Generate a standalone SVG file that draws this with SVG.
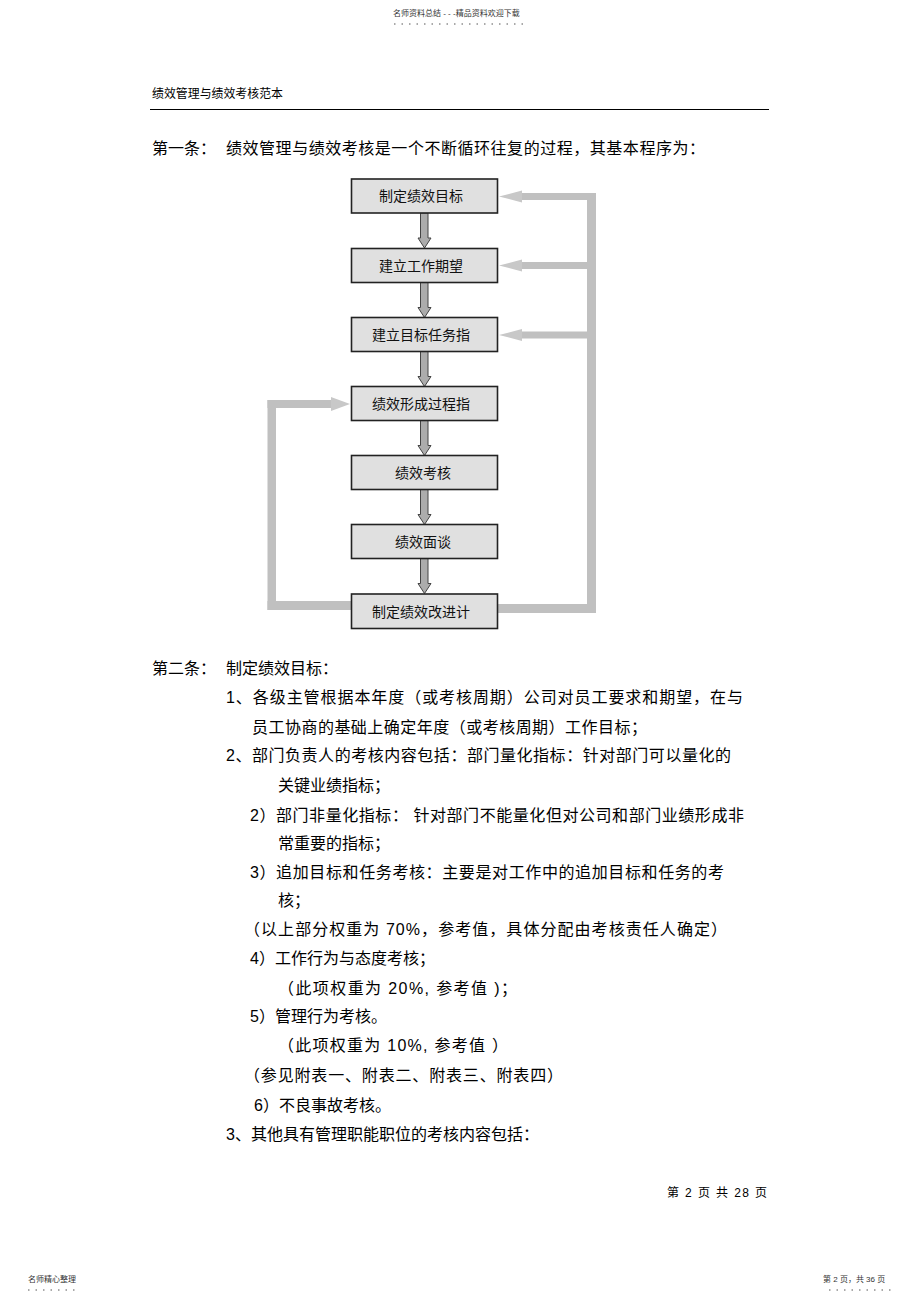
<svg xmlns="http://www.w3.org/2000/svg" width="920" height="1301" viewBox="0 0 920 1301">
<style>
.t{font-family:"Liberation Sans","Noto Sans CJK SC",sans-serif;fill:#000}
.b16{font-size:16px}
.sm{font-size:8px;fill:#333}
.box rect{fill:#e0e0e0;stroke:#222;stroke-width:1.6}
.box text{font-family:"Liberation Sans","Noto Sans CJK SC",sans-serif;font-size:14px;fill:#111;text-anchor:middle}
.dn{fill:#acacac;stroke:#444;stroke-width:1}
.bar{fill:#c0c0c0}
.hd{fill:#c8c8c8}
.dots{stroke:#555;stroke-width:1;stroke-dasharray:1.5 6}
</style>
<rect width="920" height="1301" fill="#fff"/>
<!-- page header -->
<text class="t sm" x="393" y="16">名师资料总结 - - -精品资料欢迎下载</text>
<line class="dots" x1="394" y1="24" x2="528" y2="24"/>
<text class="t" x="152" y="98" font-size="12" textLength="131" lengthAdjust="spacingAndGlyphs">绩效管理与绩效考核范本</text>
<line x1="150" y1="109.5" x2="769" y2="109.5" stroke="#000" stroke-width="1.2"/>
<text class="t b16" x="152" y="154">第一条：</text>
<text class="t b16" x="226" y="154" textLength="479" lengthAdjust="spacing">绩效管理与绩效考核是一个不断循环往复的过程，其基本程序为：</text>
<!-- connectors -->
<g id="connectors">
<polygon class="dn" points="420.5,213 428,213 428,238 431,238 424.5,248 418,238 420.5,238"/>
<polygon class="dn" points="420.5,282.5 428,282.5 428,307.5 431,307.5 424.5,317.5 418,307.5 420.5,307.5"/>
<polygon class="dn" points="420.5,351.5 428,351.5 428,376.5 431,376.5 424.5,386.5 418,376.5 420.5,376.5"/>
<polygon class="dn" points="420.5,420.5 428,420.5 428,445.5 431,445.5 424.5,455.5 418,445.5 420.5,445.5"/>
<polygon class="dn" points="420.5,489.5 428,489.5 428,514.5 431,514.5 424.5,524.5 418,514.5 420.5,514.5"/>
<polygon class="dn" points="420.5,558.5 428,558.5 428,583.5 431,583.5 424.5,593.5 418,583.5 420.5,583.5"/>
<!-- right feedback loop -->
<rect class="bar" x="498" y="604" width="98" height="9"/>
<rect class="bar" x="587" y="193" width="9" height="420"/>
<rect class="bar" x="520" y="193" width="71" height="7"/>
<polygon class="hd" points="499,196.5 522,190.5 522,202.5"/>
<rect class="bar" x="520" y="262" width="71" height="7"/>
<polygon class="hd" points="499,265.5 522,259.5 522,271.5"/>
<rect class="bar" x="520" y="331.5" width="71" height="7"/>
<polygon class="hd" points="499,335 522,329 522,341"/>
<!-- left feedback loop -->
<rect class="bar" x="267.5" y="601" width="84" height="9"/>
<rect class="bar" x="267.5" y="400" width="8.5" height="210"/>
<rect class="bar" x="267.5" y="400" width="66" height="8"/>
<polygon class="hd" points="331,397 350,404 331,411"/>
</g>
<!-- nodes -->
<g id="n1" class="box"><rect x="351.5" y="179" width="146" height="34"/><text x="421" y="201">制定绩效目标</text></g>
<g id="n2" class="box"><rect x="351.5" y="248.5" width="146" height="34"/><text x="421" y="270.5">建立工作期望</text></g>
<g id="n3" class="box"><rect x="351.5" y="317.5" width="146" height="34"/><text x="421" y="339.5">建立目标任务指</text></g>
<g id="n4" class="box"><rect x="351.5" y="386.5" width="146" height="34"/><text x="421" y="408.5">绩效形成过程指</text></g>
<g id="n5" class="box"><rect x="351.5" y="455.5" width="146" height="34"/><text x="423" y="477.5">绩效考核</text></g>
<g id="n6" class="box"><rect x="351.5" y="524.5" width="146" height="34"/><text x="423" y="546.5">绩效面谈</text></g>
<g id="n7" class="box"><rect x="351.5" y="594" width="146" height="34.5"/><text x="421" y="616.5">制定绩效改进计</text></g>
<!-- body text -->
<text class="t b16" x="152" y="674">第二条：</text>
<text class="t b16" x="226" y="674">制定绩效目标：</text>
<text class="t b16" x="226" y="703" textLength="517" lengthAdjust="spacing">1、各级主管根据本年度（或考核周期）公司对员工要求和期望，在与</text>
<text class="t b16" x="252" y="733" textLength="395" lengthAdjust="spacing">员工协商的基础上确定年度（或考核周期）工作目标；</text>
<text class="t b16" x="226" y="761" textLength="505" lengthAdjust="spacing">2、部门负责人的考核内容包括：部门量化指标：针对部门可以量化的</text>
<text class="t b16" x="278" y="791">关键业绩指标；</text>
<text class="t b16" x="250" y="821" textLength="494" lengthAdjust="spacing">2）部门非量化指标： 针对部门不能量化但对公司和部门业绩形成非</text>
<text class="t b16" x="278" y="849">常重要的指标；</text>
<text class="t b16" x="250" y="878" textLength="474" lengthAdjust="spacing">3）追加目标和任务考核：主要是对工作中的追加目标和任务的考</text>
<text class="t b16" x="278" y="906">核；</text>
<text class="t b16" x="244" y="935" textLength="483" lengthAdjust="spacing">（以上部分权重为  70%，参考值，具体分配由考核责任人确定）</text>
<text class="t b16" x="250" y="964">4）工作行为与态度考核；</text>
<text class="t b16" x="278" y="994" textLength="239" lengthAdjust="spacing">（此项权重为  20%, 参考值  )；</text>
<text class="t b16" x="250" y="1022">5）管理行为考核。</text>
<text class="t b16" x="278" y="1051" textLength="230" lengthAdjust="spacing">（此项权重为  10%, 参考值  ）</text>
<text class="t b16" x="244" y="1081" textLength="319" lengthAdjust="spacing">（参见附表一、附表二、附表三、附表四）</text>
<text class="t b16" x="254" y="1111">6）不良事故考核。</text>
<text class="t b16" x="226" y="1140">3、其他具有管理职能职位的考核内容包括：</text>
<!-- footer -->
<text class="t" x="667" y="1197" font-size="12" textLength="100" lengthAdjust="spacing">第 2 页 共 28 页</text>
<text class="t sm" x="28" y="1282">名师精心整理</text>
<line class="dots" x1="28" y1="1290" x2="76" y2="1290"/>
<text class="t sm" x="823" y="1282">第 2 页，共 36 页</text>
<line class="dots" x1="829" y1="1290" x2="893" y2="1290"/>
</svg>
